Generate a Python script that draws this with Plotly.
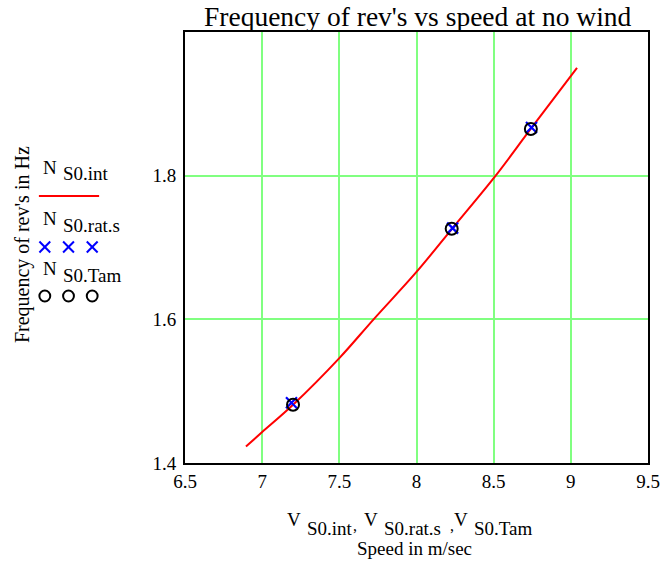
import plotly.graph_objects as go

# Interpolated frequency curve N_S0.int against speed V_S0.int
v_int = [6.895, 7.0, 7.2, 7.5, 7.722, 8.0, 8.23, 8.513, 8.74, 9.04]
n_int = [1.423, 1.443, 1.481, 1.546, 1.600, 1.666, 1.726, 1.800, 1.865, 1.950]

# Rated-speed measurements N_S0.rat.s
v_rat = [7.19, 8.234, 8.745]
n_rat = [1.484, 1.727, 1.867]

# Tam measurements N_S0.Tam
v_tam = [7.20, 8.228, 8.741]
n_tam = [1.481, 1.726, 1.865]

x_ticks = [6.5, 7, 7.5, 8, 8.5, 9, 9.5]
y_ticks = [1.4, 1.6, 1.8]

W, H = 672, 567
ML, MR, MT, MB = 185, 18, 32, 104
PW, PH = W - ML - MR, H - MT - MB

FONT = "Liberation Serif, Times New Roman, serif"


def px(x):
    return (x - ML) / PW


def py(y):
    return (H - MB - y) / PH


fig = go.Figure()
fig.add_trace(go.Scatter(x=v_int, y=n_int, mode="lines",
                         line=dict(color="red", width=2, shape="spline"),
                         showlegend=False))
fig.add_trace(go.Scatter(x=v_rat, y=n_rat, mode="markers",
                         marker=dict(symbol="x-thin", size=11,
                                     line=dict(color="blue", width=2.2)),
                         showlegend=False))
fig.add_trace(go.Scatter(x=v_tam, y=n_tam, mode="markers",
                         marker=dict(symbol="circle-open", size=12,
                                     color="black",
                                     line=dict(color="black", width=2)),
                         showlegend=False))

axis_common = dict(showline=True, linecolor="black", linewidth=2, mirror=True,
                   showgrid=True, gridcolor="#80ff80", gridwidth=1.5,
                   zeroline=False, ticks="",
                   tickfont=dict(family=FONT, size=19, color="black"))

fig.update_xaxes(range=[6.5, 9.5], tickvals=x_ticks,
                 ticktext=[f"{t:g}" for t in x_ticks], **axis_common)
fig.update_yaxes(range=[1.4, 2.0], tickvals=y_ticks,
                 ticktext=[f"{t:.1f}" for t in y_ticks],
                 ticklabelstandoff=3, **axis_common)

shapes = []
annotations = []


def text(x, y, s, size=20, xanchor="center", **kw):
    annotations.append(dict(x=px(x), y=py(y), xref="paper", yref="paper",
                            text=s, showarrow=False,
                            xanchor=xanchor, yanchor="middle",
                            font=dict(family=FONT, size=size, color="black"),
                            **kw))


# Title
text(421, 17, "Frequency of rev's vs speed at no wind", size=27.5)

# Y axis title
text(20, 245, "Frequency of rev's in Hz", size=20, textangle=-90)

# X axis title: variable names with raised V
text(295, 519, "V", size=19)
text(307, 528, "S0.int", size=19, xanchor="left")
text(357, 525, ",", size=16)
text(373, 519, "V", size=19)
text(385, 528, "S0.rat.s", size=19, xanchor="left")
text(455, 525, ",", size=16)
text(465, 519, "V", size=19)
text(476, 528, "S0.Tam", size=19, xanchor="left")
text(417, 548, "Speed in m/sec", size=19)

# Legend key
legend_rows = [("S0.int", 167), ("S0.rat.s", 218), ("S0.Tam", 268)]
for label, yy in legend_rows:
    text(48, yy, "N", size=19)
    text(59, yy + 7, label, size=19, xanchor="left")

shapes.append(dict(type="line", xref="paper", yref="paper",
                   x0=px(37), x1=px(98), y0=py(196), y1=py(196),
                   line=dict(color="red", width=2)))
for cx in (43, 67, 91):
    r = 5.5
    for dy in (-1, 1):
        shapes.append(dict(type="line", xref="paper", yref="paper",
                           x0=px(cx - r), x1=px(cx + r),
                           y0=py(247 - dy * r), y1=py(247 + dy * r),
                           line=dict(color="blue", width=2)))
    rc = 5.5
    shapes.append(dict(type="circle", xref="paper", yref="paper",
                       x0=px(cx - rc), x1=px(cx + rc),
                       y0=py(296 - rc), y1=py(296 + rc),
                       line=dict(color="black", width=2)))

fig.update_layout(width=W, height=H,
                  margin=dict(l=ML, r=MR, t=MT, b=MB),
                  paper_bgcolor="white", plot_bgcolor="white",
                  shapes=shapes, annotations=annotations,
                  showlegend=False)

fig.write_html("out.html")
